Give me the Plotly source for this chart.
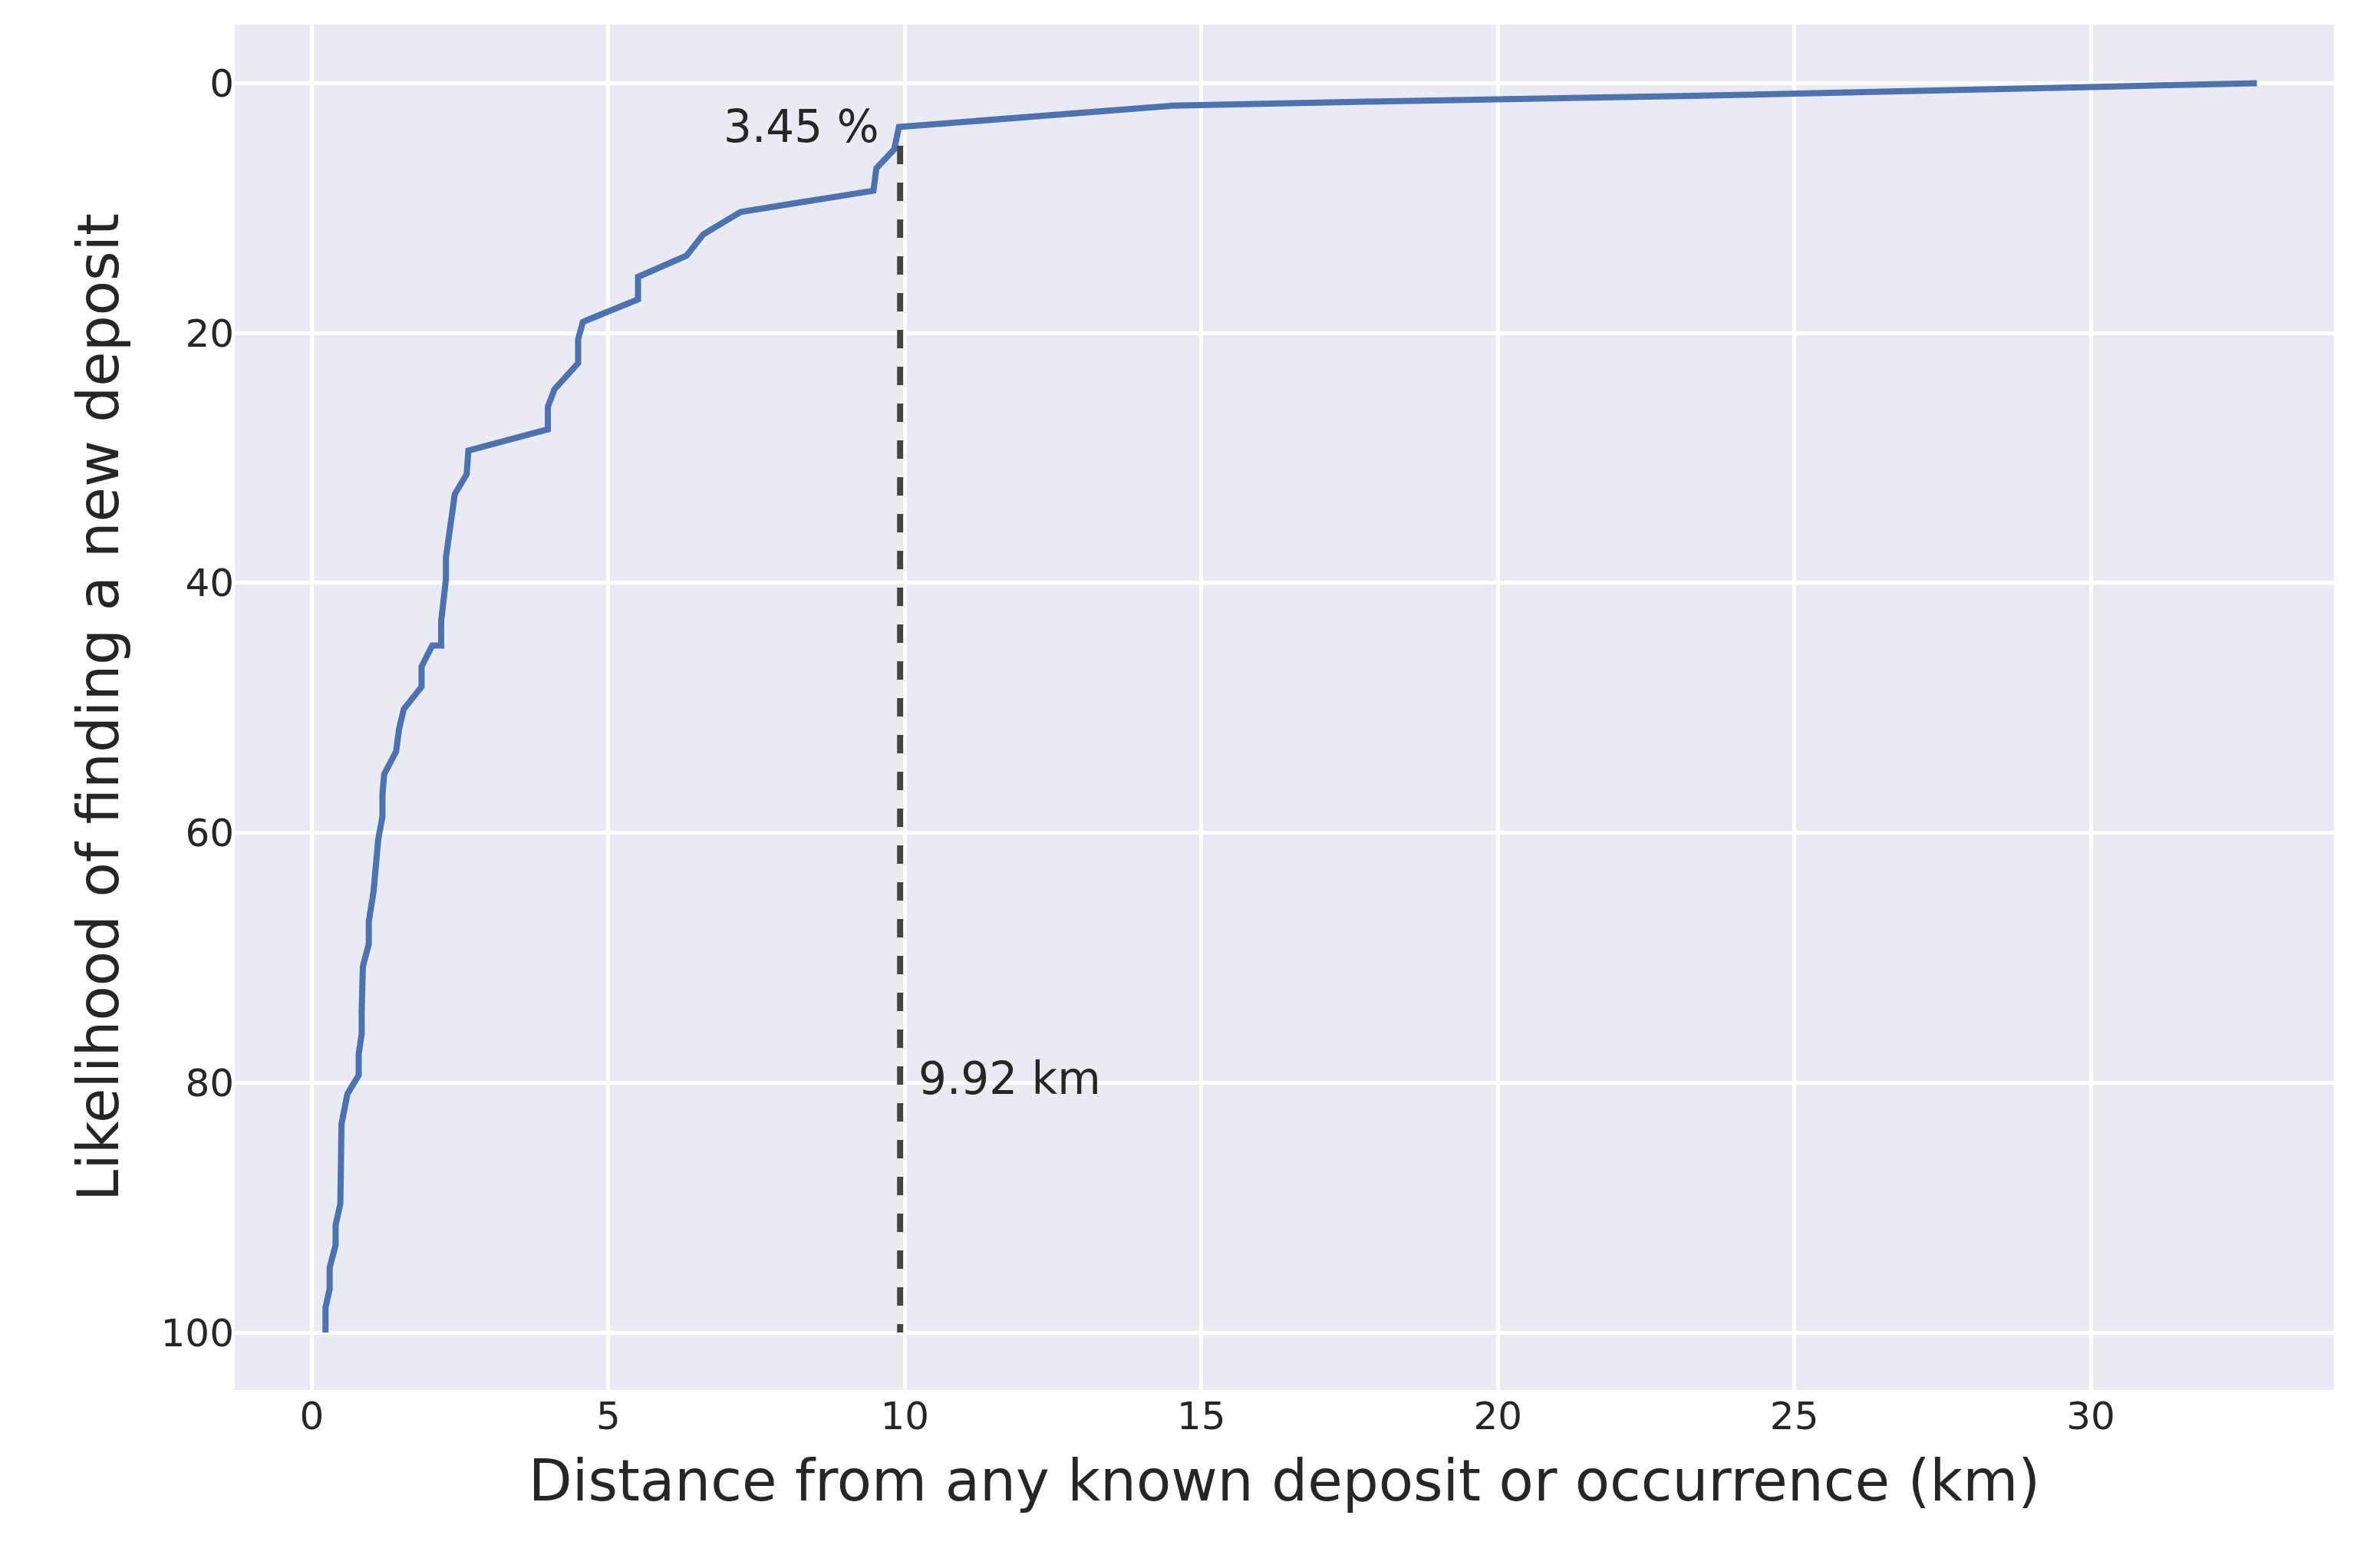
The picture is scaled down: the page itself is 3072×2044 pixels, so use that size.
import plotly.graph_objects as go

# distance (km) vs likelihood (%)
dist_km = [0.23, 0.23, 0.3, 0.3, 0.4, 0.4, 0.48, 0.48, 0.5, 0.6, 0.79, 0.79, 0.84, 0.84,
           0.86, 0.86, 0.96, 0.96, 1.04, 1.09, 1.12, 1.19, 1.19, 1.22, 1.42, 1.47, 1.55,
           1.85, 1.85, 2.03, 2.18, 2.18, 2.23, 2.26, 2.26, 2.31, 2.41, 2.61, 2.64, 3.98,
           3.98, 4.09, 4.49, 4.49, 4.57, 5.5, 5.5, 6.32, 6.6, 7.23, 9.47, 9.52, 9.82, 9.9,
           14.5, 18.0, 23.4, 30.0, 32.8]
likelihood = [100, 98, 96.5, 94.8, 93, 91.4, 89.7, 86.3, 83.3, 80.9, 79.4, 77.7, 76.1, 74.3,
              72.5, 70.7, 68.9, 67.1, 64.7, 62.3, 60.5, 58.7, 56.9, 55.3, 53.5, 51.7, 50.1,
              48.3, 46.7, 45, 45, 43.1, 41.3, 39.7, 38, 36.1, 32.9, 31.3, 29.4, 27.7,
              25.9, 24.5, 22.4, 20.5, 19.1, 17.3, 15.5, 13.8, 12.1, 10.3, 8.6, 6.8, 5.3, 3.5,
              1.8, 1.45, 1.0, 0.3, 0]
cut_km = 9.92
cut_pct = 3.45

fig = go.Figure()
fig.add_trace(go.Scatter(x=dist_km, y=likelihood, mode="lines",
                         line=dict(color="#4c72b0", width=8)))
fig.add_trace(go.Scatter(x=[cut_km, cut_km], y=[5, 100], mode="lines",
                         line=dict(color="#444444", width=8, dash="dash")))
fig.add_annotation(x=9.6, y=cut_pct, text=f"{cut_pct} %", showarrow=False,
                   xanchor="right", yanchor="middle", font=dict(size=58, color="#262626"))
fig.add_annotation(x=10.2, y=79.7, text=f"{cut_km} km", showarrow=False,
                   xanchor="left", yanchor="middle", font=dict(size=58, color="#262626"))

axis = dict(showgrid=True, gridcolor="white", gridwidth=5, zeroline=False,
            tickfont=dict(size=50, color="#262626"), ticks="", showline=False)
fig.update_xaxes(**axis, range=[-1.3, 34.1], tickvals=[0, 5, 10, 15, 20, 25, 30],
                 title=dict(text="Distance from any known deposit or occurrence (km)",
                            font=dict(size=74, color="#262626"), standoff=30))
fig.update_yaxes(**axis, range=[104.6, -4.7], tickvals=[0, 20, 40, 60, 80, 100],
                 title=dict(text="Likelihood of finding a new deposit",
                            font=dict(size=74, color="#262626"), standoff=30))
fig.update_layout(width=3072, height=2044, showlegend=False,
                  plot_bgcolor="#eaeaf2", paper_bgcolor="white",
                  font=dict(family="DejaVu Sans"),
                  margin=dict(l=298, r=38, t=24, b=240))
fig.write_html("out.html")
